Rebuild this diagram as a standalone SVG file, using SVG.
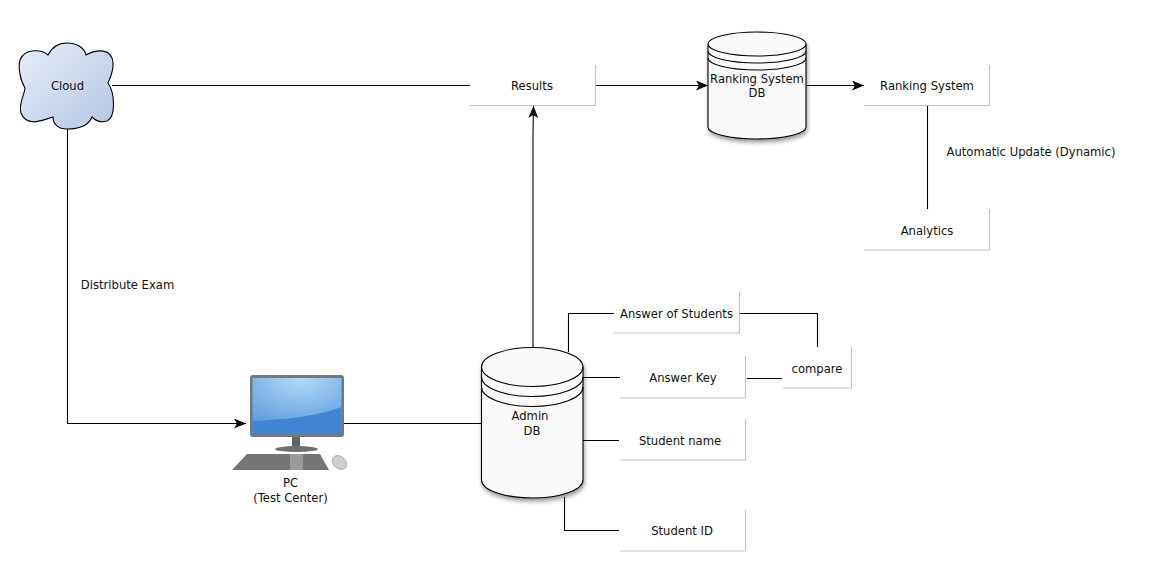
<svg xmlns="http://www.w3.org/2000/svg" width="1155" height="581" viewBox="0 0 1155 581">
<style>
text{font-family:"DejaVu Sans",Verdana,sans-serif;font-size:11.6px;fill:#111;text-anchor:middle}
.box{fill:#fff;stroke:none}
.edge{fill:none;stroke:#c4c4c4;stroke-width:1.2}
.conn{fill:none;stroke:#000;stroke-width:1.1}
.db{fill:#fafafa;stroke:#000;stroke-width:1.1;filter:url(#sh)}
.rim{fill:none;stroke:#000;stroke-width:1.1}
</style>
<defs>
<marker id="arr" markerUnits="userSpaceOnUse" markerWidth="13" markerHeight="10" refX="12" refY="5" orient="auto"><path d="M0 0L12 5L0 10L3 5Z" fill="#000"/></marker>
<linearGradient id="cl" x1="0" y1="0" x2="1" y2="1"><stop offset="0" stop-color="#e8eef9"/><stop offset="1" stop-color="#b4c6e2"/></linearGradient>
<radialGradient id="scr" cx="0.55" cy="0" r="0.9"><stop offset="0" stop-color="#b4daf8"/><stop offset="1" stop-color="#5f9ede"/></radialGradient>
<filter id="sh" x="-10%" y="-10%" width="125%" height="125%"><feDropShadow dx="1" dy="3" stdDeviation="2" flood-color="#000" flood-opacity="0.4"/></filter>
</defs>
<g id="connectors">
<path class="conn" d="M112 85.500H470"/>
<path class="conn" d="M67.500 128V423.500H246" marker-end="url(#arr)"/>
<path class="conn" d="M344 423.500H481"/>
<path class="conn" d="M533 347V135L533.500 106" marker-end="url(#arr)"/>
<path class="conn" d="M595 85.500H708" marker-end="url(#arr)"/>
<path class="conn" d="M806 85.500H864" marker-end="url(#arr)"/>
<path class="conn" d="M927.500 106V209"/>
<path class="conn" d="M568.500 352V313.500H614"/>
<path class="conn" d="M583 377.500H620"/>
<path class="conn" d="M582 440.500H619"/>
<path class="conn" d="M564.500 497V530.500H619"/>
<path class="conn" d="M739 313.500H817.500V347"/>
<path class="conn" d="M747 378.500H782"/>
</g>
<g id="cloud">
<path d="M48 55C52 47 58 43 67 43C76 43 84 47 86 55C97 49 112 48 113 63C113.500 72 110 78 108 83C115 93 116 117 107 121C101 123 96 121 92 117C88 127 77 129 67 129C58 129 53 124 53 117C43 120 27 128 21 113C18 105 25 93 25 88C20 80 18 67 20 60C25 47 43 50 48 55Z" fill="url(#cl)" stroke="#000" stroke-width="1.1"/>
<text x="67.500" y="90">Cloud</text>
</g>
<g id="results"><rect class="box" x="470" y="65" width="125" height="40"/><path class="edge" d="M470 105.500H595.500V65"/><text x="532" y="90">Results</text></g>
<g id="ranking-db">
<path class="db" d="M708 44A49 12 0 0 1 806 44V127A49 12 0 0 1 708 127Z"/>
<path class="rim" d="M708 44A49 12 0 0 0 806 44M708 51A49 12 0 0 0 806 51M708 58A49 12 0 0 0 806 58"/>
<text x="757" y="83">Ranking System</text><text x="757" y="97">DB</text>
</g>
<g id="ranking-system"><rect class="box" x="864" y="65" width="126" height="40"/><path class="edge" d="M864 105.500H989.500V65"/><text x="927" y="90">Ranking System</text></g>
<g id="analytics"><rect class="box" x="864" y="209" width="126" height="41"/><path class="edge" d="M864 250H989.500V209"/><text x="927" y="235">Analytics</text></g>
<g id="auto-label"><text x="1031" y="156">Automatic Update (Dynamic)</text></g>
<g id="distribute-label"><text x="127.500" y="289">Distribute Exam</text></g>
<g id="pc">
<path d="M247 454H320L329 470H232Z" fill="#757575"/>
<path d="M290 454H303V470H290Z" fill="#9a9a9a"/>
<ellipse cx="339.500" cy="462.500" rx="6" ry="8" transform="rotate(-50 339.500 462.500)" fill="#d0d0d0" stroke="#a0a0a0" stroke-width="0.8"/>
<path d="M292 436H300V448H292Z" fill="#5f6668"/>
<ellipse cx="296.500" cy="449" rx="21.500" ry="3" fill="#6c7072"/>
<rect x="250" y="375" width="94" height="62" rx="3" fill="#75797b"/>
<rect x="252.500" y="378" width="89" height="56" fill="url(#scr)"/>
<path d="M252.500 421C280 420 320 416 341.500 407V434H252.500Z" fill="#3f85d3"/>
<text x="290.500" y="487">PC</text><text x="290.500" y="502">(Test Center)</text>
</g>
<g id="admin-db">
<path class="db" d="M481.500 367A50.750 19.500 0 0 1 583 367V480A50.750 18 0 0 1 481.500 480Z"/>
<path class="rim" d="M481.500 367A50.750 19.500 0 0 0 583 367M481.500 377A50.750 19.500 0 0 0 583 377M481.500 387A50.750 19.500 0 0 0 583 387"/>
<text x="530" y="420">Admin</text><text x="532" y="435">DB</text>
</g>
<g id="answer-students"><rect class="box" x="614" y="292" width="125" height="41"/><path class="edge" d="M614 333H739.500V292"/><text x="676.500" y="318">Answer of Students</text></g>
<g id="answer-key"><rect class="box" x="620" y="357" width="126" height="41"/><path class="edge" d="M620 398H745.500V356"/><text x="683" y="382">Answer Key</text></g>
<g id="compare"><rect class="box" x="783" y="347" width="68" height="41"/><path class="edge" d="M783 388H851.500V347"/><text x="817" y="373">compare</text></g>
<g id="student-name"><rect class="box" x="620" y="419" width="126" height="41"/><path class="edge" d="M620 460H745.500V419"/><text x="680" y="445">Student name</text></g>
<g id="student-id"><rect class="box" x="620" y="510" width="126" height="41"/><path class="edge" d="M620 551H745.500V510"/><text x="682" y="535">Student ID</text></g>
</svg>
